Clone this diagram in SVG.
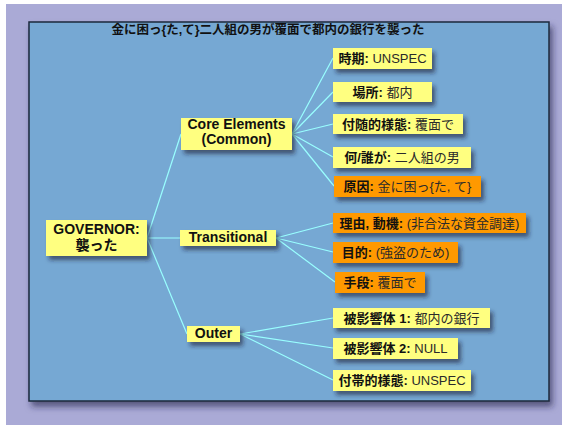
<svg xmlns="http://www.w3.org/2000/svg" width="562" height="425" viewBox="0 0 562 425">
<defs>
<filter id="sh" x="-20%" y="-30%" width="150%" height="180%"><feDropShadow dx="3" dy="4" stdDeviation="2" flood-color="#1a2233" flood-opacity="0.6"/></filter>
<filter id="bsh" x="-5%" y="-5%" width="110%" height="110%"><feDropShadow dx="3" dy="5" stdDeviation="3" flood-color="#222244" flood-opacity="0.6"/></filter>
<style>
text{font-family:"Liberation Sans","Noto Sans CJK JP",sans-serif;fill:#111}
.y{fill:#ffff80;filter:url(#sh)}
.o{fill:#ff9900;filter:url(#sh)}
.b{font-weight:bold}
.n{font-size:14px;font-weight:bold;text-anchor:middle}
.l{font-size:13px;text-anchor:middle}
.v{fill:#2a2a2a;font-weight:normal}
#edges line{stroke:#99ffff;stroke-width:1.2}
</style>
</defs>
<rect x="6" y="4" width="556" height="421" fill="#aaaad6"/>
<rect x="29" y="22" width="520" height="379" fill="#76a8d3" stroke="#1c2a3c" stroke-width="1.5" filter="url(#bsh)"/>
<text x="268" y="34" font-size="12.5" font-weight="bold" text-anchor="middle">金に困っ{た,て}二人組の男が覆面で都内の銀行を襲った</text>
<g id="edges">
<line x1="147" y1="238" x2="181" y2="134"/>
<line x1="147" y1="238" x2="180" y2="238"/>
<line x1="147" y1="238" x2="187" y2="334"/>
<line x1="292" y1="134" x2="333" y2="58"/>
<line x1="292" y1="134" x2="333" y2="92"/>
<line x1="292" y1="134" x2="333" y2="124"/>
<line x1="292" y1="134" x2="333" y2="157"/>
<line x1="292" y1="134" x2="334" y2="186"/>
<line x1="276" y1="238" x2="333" y2="223"/>
<line x1="276" y1="238" x2="333" y2="252"/>
<line x1="276" y1="238" x2="335" y2="282"/>
<line x1="240" y1="334" x2="333" y2="318"/>
<line x1="240" y1="334" x2="333" y2="348"/>
<line x1="240" y1="334" x2="333" y2="380"/>
</g>
<g id="governor"><rect class="y" x="46" y="220" width="101" height="36"/><text class="n" x="96.5" y="234">GOVERNOR:</text><text class="n" x="96.5" y="250" font-size="13">襲った</text></g>
<g id="core"><rect class="y" x="181" y="118" width="111" height="32"/><text class="n" x="236.5" y="129">Core Elements</text><text class="n" x="236.5" y="144">(Common)</text></g>
<g id="transitional"><rect class="y" x="180" y="230" width="96" height="16"/><text class="n" x="228" y="242">Transitional</text></g>
<g id="outer"><rect class="y" x="187" y="326" width="53" height="16"/><text class="n" x="213.5" y="338">Outer</text></g>
<g id="time"><rect class="y" x="333" y="48" width="99" height="21"/><text class="l" x="382.5" y="63"><tspan class="b">時期:</tspan> <tspan class="v">UNSPEC</tspan></text></g>
<g id="place"><rect class="y" x="333" y="82" width="99" height="20"/><text class="l" x="382.5" y="96.5"><tspan class="b">場所:</tspan> <tspan class="v">都内</tspan></text></g>
<g id="manner"><rect class="y" x="333" y="114" width="130" height="20"/><text class="l" x="398" y="129"><tspan class="b">付随的様態:</tspan> <tspan class="v">覆面で</tspan></text></g>
<g id="agent"><rect class="y" x="333" y="147" width="138" height="21"/><text class="l" x="402" y="162"><tspan class="b">何/誰が:</tspan> <tspan class="v">二人組の男</tspan></text></g>
<g id="cause"><rect class="o" x="334" y="176" width="147" height="21"/><text class="l" x="407.5" y="191"><tspan class="b">原因:</tspan> <tspan class="v">金に困っ{た, て}</tspan></text></g>
<g id="reason"><rect class="o" x="333" y="213" width="193" height="20"/><text class="l" x="429.5" y="228"><tspan class="b">理由, 動機:</tspan> <tspan class="v">(非合法な資金調達)</tspan></text></g>
<g id="purpose"><rect class="o" x="333" y="242" width="125" height="21"/><text class="l" x="395.5" y="257"><tspan class="b">目的:</tspan> <tspan class="v">(強盗のため)</tspan></text></g>
<g id="means"><rect class="o" x="335" y="272" width="90" height="21"/><text class="l" x="380" y="287"><tspan class="b">手段:</tspan> <tspan class="v">覆面で</tspan></text></g>
<g id="affected1"><rect class="y" x="333" y="308" width="157" height="20"/><text class="l" x="411.5" y="323"><tspan class="b">被影響体 1:</tspan> <tspan class="v">都内の銀行</tspan></text></g>
<g id="affected2"><rect class="y" x="333" y="338" width="125" height="21"/><text class="l" x="395.5" y="353"><tspan class="b">被影響体 2:</tspan> <tspan class="v">NULL</tspan></text></g>
<g id="attendant"><rect class="y" x="333" y="370" width="138" height="21"/><text class="l" x="402" y="385"><tspan class="b">付帯的様態:</tspan> <tspan class="v">UNSPEC</tspan></text></g>
</svg>
